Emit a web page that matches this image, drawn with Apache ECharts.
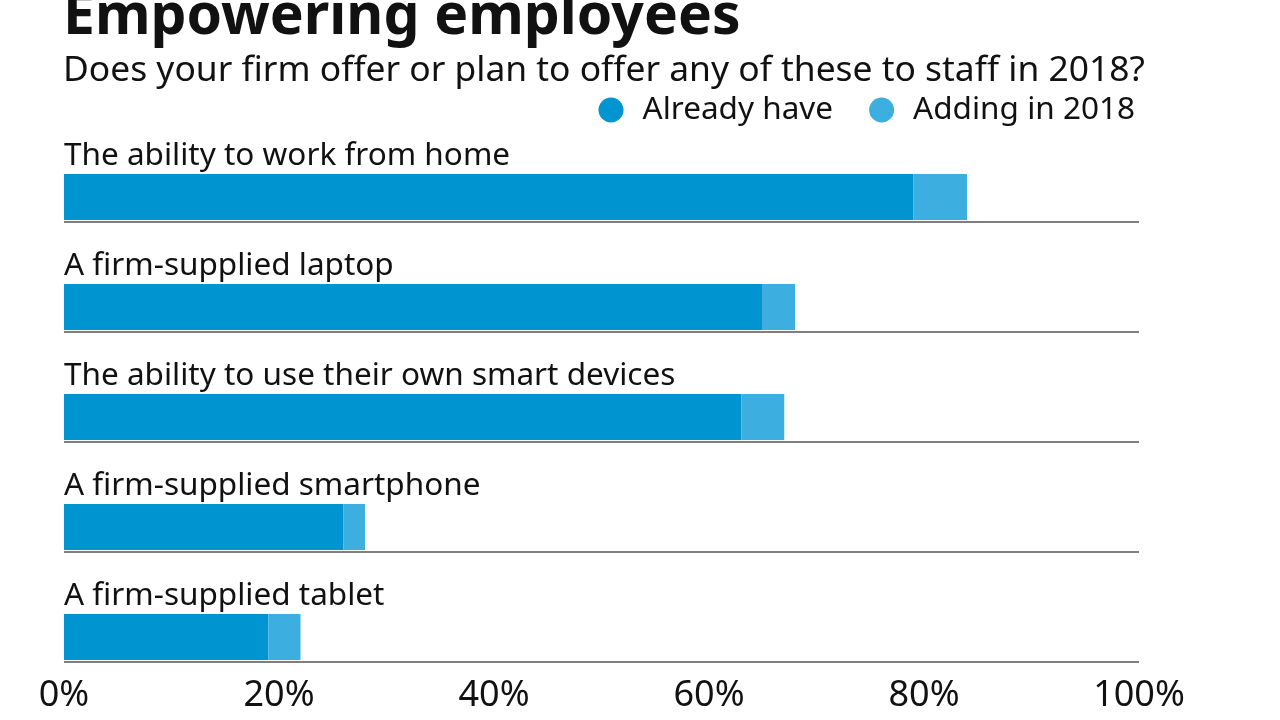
<!DOCTYPE html>
<html>
<head>
<meta charset="utf-8">
<script src="https://cdn.jsdelivr.net/npm/echarts@6/dist/echarts.min.js"></script>
<style>
html,body{margin:0;padding:0;background:#fff;}
#chart{width:1280px;height:720px;}
</style>
</head>
<body>
<div id="chart"></div>
<script>
var categories = [
  'The ability to work from home',
  'A firm-supplied laptop',
  'The ability to use their own smart devices',
  'A firm-supplied smartphone',
  'A firm-supplied tablet'
];
var alreadyHave = [79, 65, 63, 26, 19];
var adding2018 = [5, 3, 4, 2, 3];
var xTicks = [0, 20, 40, 60, 80, 100];

var FONT = 'Noto Sans';
var chart = echarts.init(document.getElementById('chart'));
var option = {
  backgroundColor: '#ffffff',
  animation: false,
  title: [
    {
      text: 'Empowering employees',
      left: 58, top: -16,
      textStyle: {fontFamily: FONT, fontSize: 57, fontWeight: 'bold', color: '#111'}
    },
    {
      text: 'Does your firm offer or plan to offer any of these to staff in 2018?',
      left: 58, top: 48,
      textStyle: {fontFamily: FONT, fontSize: 35.4, fontWeight: 'normal', color: '#111'}
    }
  ],
  legend: {
    right: 140, top: 89,
    icon: 'circle',
    itemWidth: 25, itemHeight: 25,
    itemGap: 36,
    textStyle: {fontFamily: FONT, fontSize: 31.5, color: '#111', padding: [0, 0, 0, 14]},
    data: ['Already have', 'Adding in 2018']
  },
  grid: [
    {left: 64, right: 141, top: 112, height: 550},
    {left: 64, right: 141, top: 142, height: 550}
  ],
  xAxis: [
    {
      gridIndex: 0, type: 'value', min: 0, max: 100, interval: 20,
      axisLine: {show: false}, axisTick: {show: false}, splitLine: {show: false},
      axisLabel: {
        margin: 16, fontFamily: FONT, fontSize: 36, color: '#111',
        formatter: function (v) { return xTicks.indexOf(v) >= 0 ? v + '%' : ''; }
      }
    },
    {
      gridIndex: 1, type: 'value', min: 0, max: 100, interval: 20,
      show: false
    }
  ],
  yAxis: [
    {
      gridIndex: 0, type: 'category', inverse: true, data: categories,
      axisLine: {show: false}, axisTick: {show: false},
      splitLine: {show: true, lineStyle: {width: 1.5, color: ['rgba(0,0,0,0)', '#555', '#555', '#555', '#555', '#555']}},
      axisLabel: {
        inside: true, margin: 0, align: 'left', verticalAlign: 'bottom',
        lineHeight: 22,
        fontFamily: FONT, fontSize: 31.5, color: '#111'
      }
    },
    {
      gridIndex: 1, type: 'category', inverse: true, data: categories,
      show: false
    }
  ],
  series: [
    {
      name: 'Already have', type: 'bar', stack: 'total',
      xAxisIndex: 1, yAxisIndex: 1, barWidth: 46,
      itemStyle: {color: '#0095d0'},
      data: alreadyHave
    },
    {
      name: 'Adding in 2018', type: 'bar', stack: 'total',
      xAxisIndex: 1, yAxisIndex: 1, barWidth: 46,
      itemStyle: {color: '#3caee0'},
      data: adding2018
    }
  ]
};
chart.setOption(option);
</script>
</body>
</html>
